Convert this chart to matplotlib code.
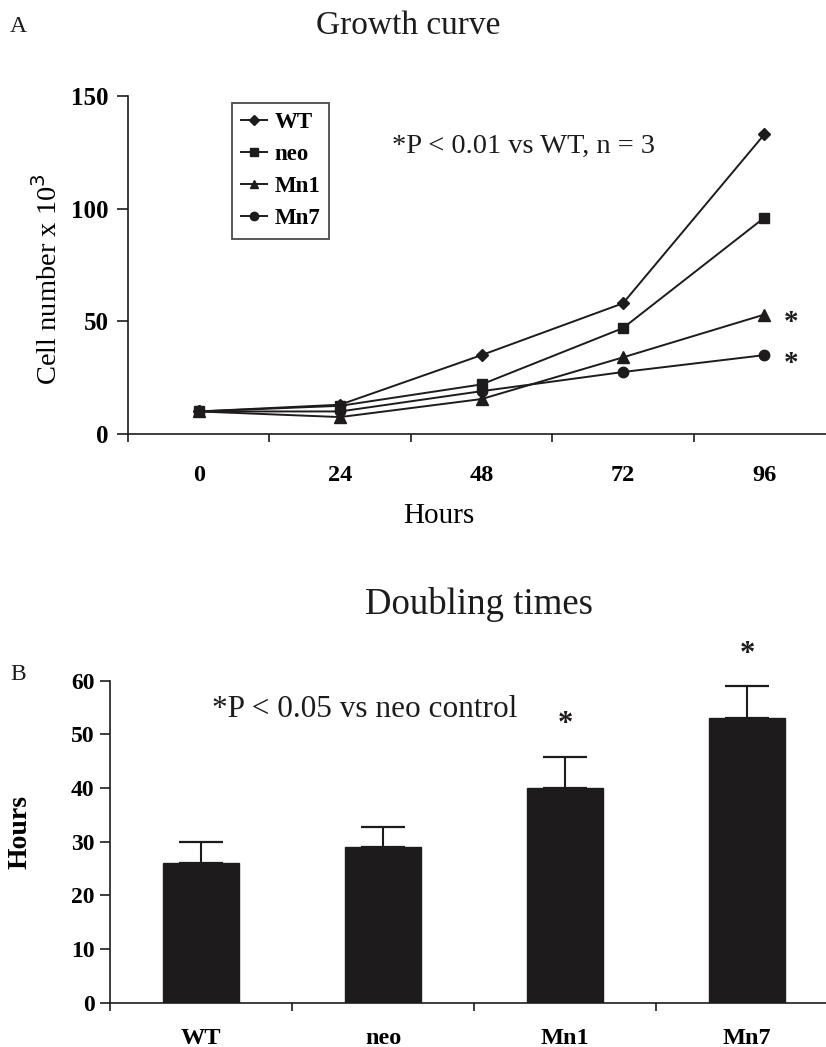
import matplotlib
matplotlib.use("Agg")
import matplotlib.pyplot as plt
import numpy as np

plt.rcParams['font.family'] = ['Liberation Serif', 'DejaVu Serif']

# ---- data ----
hours = ['0', '24', '48', '72', '96']
wt = [10, 13, 35, 58, 133]
neo = [10, 12.5, 22, 47, 96]
mn1 = [10, 7.5, 15.5, 34, 53]
mn7 = [10, 10, 19, 27.5, 35]
series_names = ['WT', 'neo', 'Mn1', 'Mn7']
series_markers = ['D', 's', '^', 'o']
series_sizes = [6, 7.5, 8, 7.5]
star_series = ['Mn1', 'Mn7']

groups = ['WT', 'neo', 'Mn1', 'Mn7']
doubling = [26, 29, 40, 53]
doubling_err = [4, 3.8, 5.8, 6]
star_groups = ['Mn1', 'Mn7']

DARK = '#1e1b1c'

fig = plt.figure(figsize=(8.26, 10.47), dpi=100)

# ---------------- Panel A ----------------
ax1 = fig.add_axes([0.155, 0.5855, 0.856, 0.3228])
x = np.arange(len(hours))
data = [wt, neo, mn1, mn7]
for name, vals, mk, ms in zip(series_names, data, series_markers, series_sizes):
    ax1.plot(x, vals, color=DARK, lw=1.4, marker=mk, ms=ms, mfc=DARK, mec=DARK,
             label=name, zorder=3)
for name in star_series:
    vals = data[series_names.index(name)]
    ax1.annotate('*', xy=(x[-1], vals[-1]), xytext=(19, -6), textcoords='offset points',
                 ha='center', va='center', fontsize=21, fontweight='bold', color=DARK)

ax1.set_xlim(-0.5, len(hours) - 0.5)
ax1.set_ylim(0, 150)
ax1.set_yticks([0, 50, 100, 150])
ax1.set_xticks(np.arange(-0.5, len(hours), 1.0))
ax1.set_xticklabels([])
ax1.set_xticks(x, minor=True)
ax1.set_xticklabels(hours, minor=True)
ax1.tick_params(axis='x', which='major', direction='out', length=6, width=1.2, color=DARK)
ax1.tick_params(axis='x', which='minor', length=0, pad=22, labelsize=17.5)
ax1.tick_params(axis='y', direction='out', length=8, width=1.2, color=DARK, pad=6, labelsize=18)
for lab in ax1.get_xticklabels(minor=True) + ax1.get_yticklabels():
    lab.set_fontweight('bold')
for s in ['top', 'right']:
    ax1.spines[s].set_visible(False)
for s in ['left', 'bottom']:
    ax1.spines[s].set_linewidth(1.2)
    ax1.spines[s].set_color(DARK)

ax1.set_ylabel('Cell number x 10$^3$', fontsize=20.5)
ax1.yaxis.set_label_coords(-0.092, 0.46)
ax1.set_xlabel('Hours', fontsize=21)
ax1.xaxis.set_label_coords(0.44, -0.205)

leg = ax1.legend(loc='upper left', bbox_to_anchor=(0.147, 0.979), bbox_transform=ax1.transAxes,
                 borderaxespad=0, frameon=True, fancybox=False, edgecolor=DARK,
                 prop={'weight': 'bold', 'size': 16.5}, handlelength=1.15, handletextpad=0.3,
                 labelspacing=0.48, borderpad=0.4, numpoints=1, markerscale=0.8)
leg.get_frame().set_linewidth(1.3)

ax1.text(0.56, 0.852, '*P < 0.01 vs WT, n = 3', transform=ax1.transAxes, ha='center', va='center',
         fontsize=20.5, color=DARK)

fig.text(408 / 826, 1 - 26 / 1047, 'Growth curve', ha='center', va='center', fontsize=24, color=DARK)
fig.text(18 / 826, 1 - 26 / 1047, 'A', ha='center', va='center', fontsize=17, color=DARK)

# ---------------- Panel B ----------------
ax2 = fig.add_axes([0.1332, 0.0424, 0.8814, 0.3075])
xb = np.arange(len(groups))
ax2.bar(xb, doubling, width=0.42, color=DARK, edgecolor=DARK, zorder=2)
ax2.errorbar(xb, doubling, yerr=[np.zeros(len(groups)), doubling_err], fmt='none',
             ecolor=DARK, elinewidth=1.5, capsize=15.5, capthick=1.6, zorder=1)
for g in star_groups:
    i = groups.index(g)
    ax2.annotate('*', xy=(xb[i], doubling[i] + doubling_err[i]), xytext=(0, 23),
                 textcoords='offset points', ha='center', va='center', fontsize=22,
                 fontweight='bold', color=DARK)

ax2.set_xlim(-0.5, len(groups) - 0.5)
ax2.set_ylim(0, 60)
ax2.set_yticks(np.arange(0, 61, 10))
ax2.set_xticks(np.arange(-0.5, len(groups), 1.0))
ax2.set_xticklabels([])
ax2.set_xticks(xb, minor=True)
ax2.set_xticklabels(groups, minor=True)
ax2.tick_params(axis='x', which='major', direction='out', length=6, width=1.2, color=DARK)
ax2.tick_params(axis='x', which='minor', length=0, pad=18, labelsize=17.5)
ax2.tick_params(axis='y', direction='out', length=7, width=1.2, color=DARK, pad=4, labelsize=17)
for lab in ax2.get_xticklabels(minor=True) + ax2.get_yticklabels():
    lab.set_fontweight('bold')
for s in ['top', 'right']:
    ax2.spines[s].set_visible(False)
for s in ['left', 'bottom']:
    ax2.spines[s].set_linewidth(1.2)
    ax2.spines[s].set_color(DARK)

ax2.set_ylabel('Hours', fontsize=20, fontweight='bold')
ax2.yaxis.set_label_coords(-0.107, 0.53)

ax2.text(0.35, 0.91, '*P < 0.05 vs neo control', transform=ax2.transAxes, ha='center',
         va='center', fontsize=22.5, color=DARK)

fig.text(479 / 826, 1 - 605 / 1047, 'Doubling times', ha='center', va='center', fontsize=26.5, color=DARK)
fig.text(18 / 826, 1 - 675 / 1047, 'B', ha='center', va='center', fontsize=17, color=DARK)

fig.savefig('out.png', dpi=100)
